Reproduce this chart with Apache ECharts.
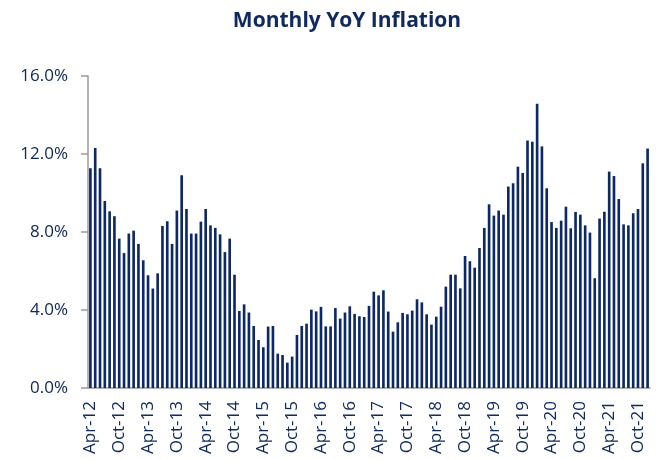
<!DOCTYPE html>
<html style="height: 100%">
<head>
    <meta charset="utf-8">
    <title>Monthly YoY Inflation</title>
</head>
<body style="height: 100%; margin: 0; background: #fff">
<div id="container" style="width: 658px; height: 459px"></div>
<script src="https://cdn.jsdelivr.net/npm/echarts@6/dist/echarts.min.js"></script>
<script>
    // months shown on the axis, Apr-12 .. Dec-21
    var monthNames = ['Jan', 'Feb', 'Mar', 'Apr', 'May', 'Jun', 'Jul', 'Aug', 'Sep', 'Oct', 'Nov', 'Dec'];
    var startYear = 12, startMonth = 3, monthCount = 117;

    // YoY inflation, %
    var inflation = [
        11.27, 12.31, 11.27, 9.59, 9.06, 8.81, 7.66, 6.92, 7.92, 8.07, 7.39, 6.55,
        5.78, 5.10, 5.88, 8.31, 8.55, 7.39, 9.10, 10.91, 9.18, 7.92, 7.92, 8.53,
        9.18, 8.34, 8.21, 7.88, 6.97, 7.66, 5.81, 3.95, 4.29, 3.87, 3.18, 2.46,
        2.09, 3.15, 3.18, 1.76, 1.69, 1.30, 1.61, 2.72, 3.18, 3.30, 4.02, 3.93,
        4.16, 3.16, 3.16, 4.10, 3.56, 3.87, 4.19, 3.80, 3.68, 3.64, 4.21, 4.94,
        4.75, 5.01, 3.92, 2.89, 3.37, 3.85, 3.78, 3.97, 4.55, 4.39, 3.78, 3.25,
        3.66, 4.17, 5.20, 5.81, 5.81, 5.11, 6.77, 6.50, 6.17, 7.18, 8.21, 9.42,
        8.84, 9.10, 8.89, 10.33, 10.50, 11.35, 11.03, 12.69, 12.63, 14.58, 12.39, 10.24,
        8.51, 8.21, 8.58, 9.30, 8.19, 9.03, 8.89, 8.34, 7.97, 5.63, 8.69, 9.04,
        11.10, 10.87, 9.69, 8.39, 8.34, 8.96, 9.18, 11.52, 12.28
    ];

    var yTicks = [0, 4, 8, 12, 16];

    var categories = [];
    for (var i = 0; i < monthCount; i++) {
        var m = startMonth + i;
        categories.push(monthNames[m % 12] + '-' + (startYear + Math.floor(m / 12)));
    }

    var navy = '#0f2a62';
    var myChart = echarts.init(document.getElementById('container'), null, {renderer: 'canvas'});

    myChart.setOption({
        animation: false,
        title: {
            text: 'Monthly YoY Inflation',
            left: 342,
            top: 6,
            textAlign: 'center',
            textStyle: {
                color: navy,
                fontFamily: 'Open Sans',
                fontWeight: 'bold',
                fontSize: 21
            }
        },
        grid: {
            left: 88,
            right: 8,
            top: 76,
            bottom: 71
        },
        xAxis: {
            type: 'category',
            data: categories,
            axisLine: {lineStyle: {color: '#9a9a9a', width: 1.5}},
            axisTick: {
                interval: 5,
                length: 6,
                lineStyle: {color: '#9a9a9a', width: 1.5}
            },
            axisLabel: {
                interval: 5,
                rotate: 90,
                margin: 13,
                color: navy,
                fontFamily: 'Open Sans',
                fontSize: 17
            }
        },
        yAxis: {
            type: 'value',
            min: yTicks[0],
            max: yTicks[yTicks.length - 1],
            interval: 4,
            splitLine: {show: false},
            axisLine: {show: true, lineStyle: {color: '#9a9a9a', width: 1.5}},
            axisTick: {show: true, length: 7, lineStyle: {color: '#9a9a9a', width: 1.5}},
            axisLabel: {
                margin: 20,
                color: navy,
                fontFamily: 'Open Sans',
                fontSize: 17,
                formatter: function (v) {
                    return v.toFixed(1) + '%';
                }
            }
        },
        series: [{
            type: 'bar',
            data: inflation,
            barCategoryGap: '45%',
            itemStyle: {color: '#0c2868'}
        }]
    });
</script>
</body>
</html>
